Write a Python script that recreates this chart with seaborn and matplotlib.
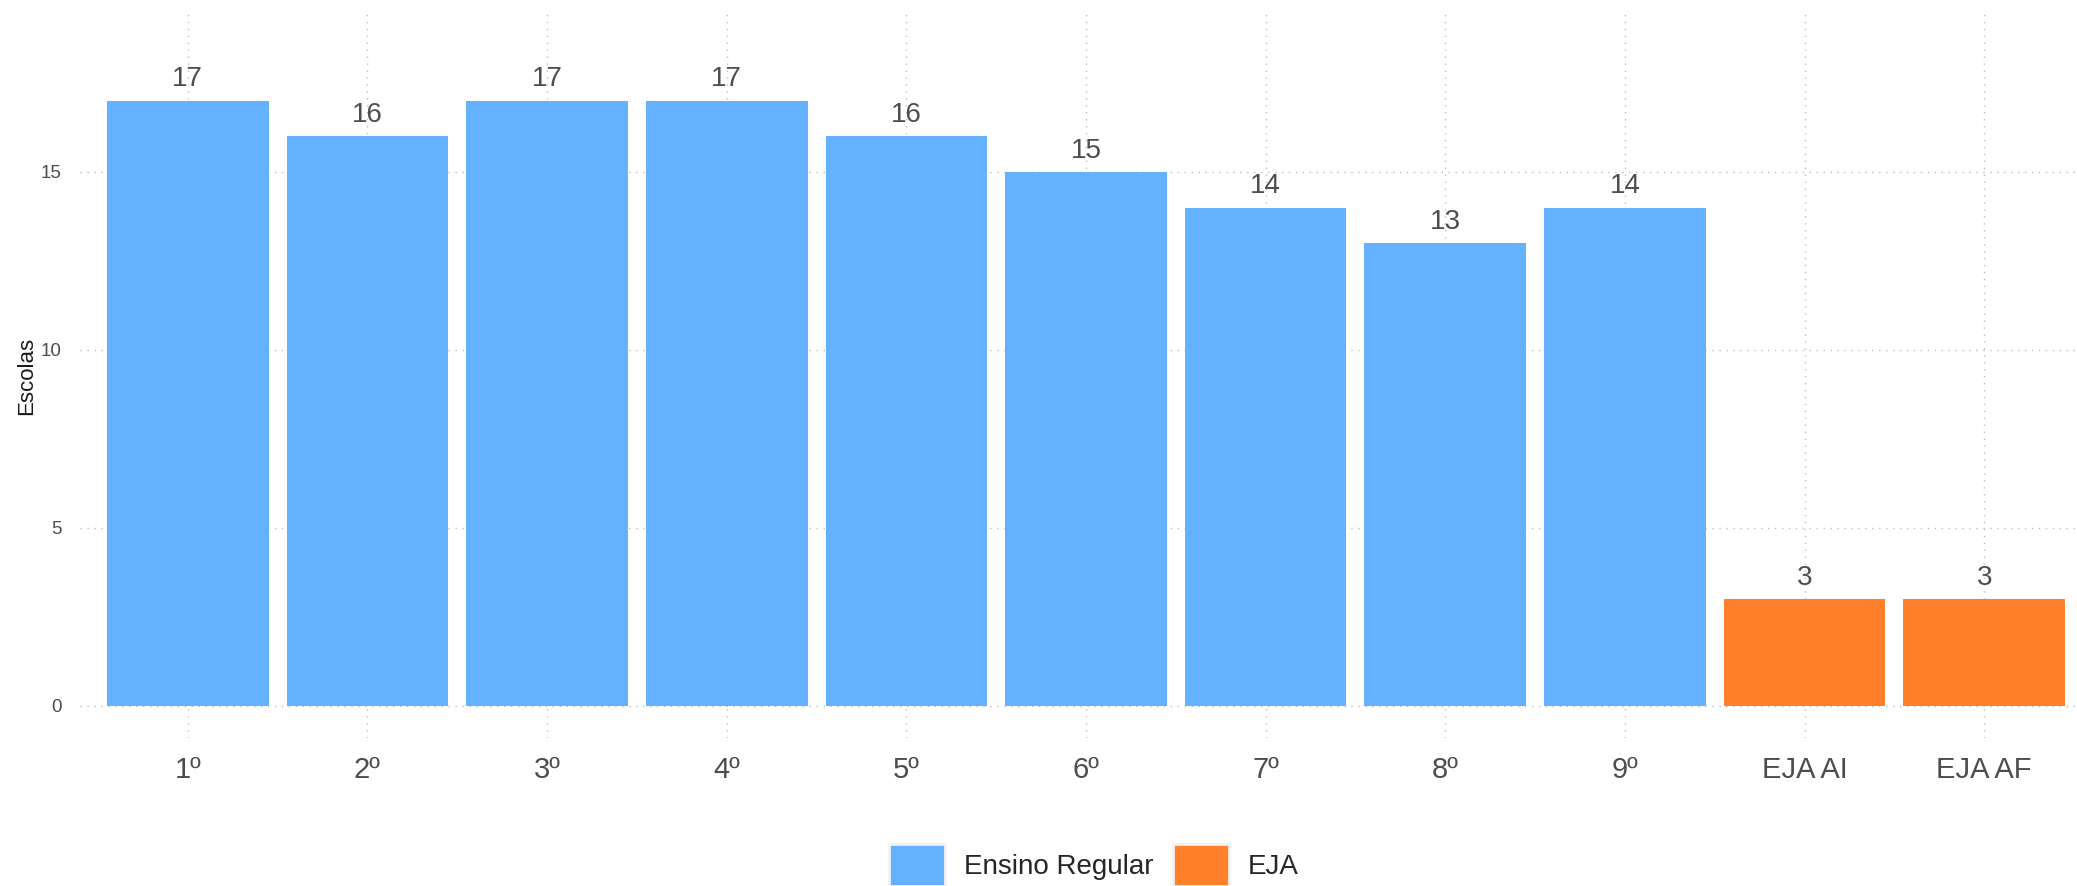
import pandas as pd
import matplotlib.pyplot as plt
import seaborn as sns
from matplotlib.patches import Patch

# dados
series = ["1º", "2º", "3º", "4º", "5º", "6º", "7º", "8º", "9º", "EJA AI", "EJA AF"]
escolas = [17, 16, 17, 17, 16, 15, 14, 13, 14, 3, 3]
modalidade = ["Ensino Regular"] * 9 + ["EJA"] * 2
cores = {"Ensino Regular": "#64B2FF", "EJA": "#FF7F2A"}

df = pd.DataFrame({"serie": series, "escolas": escolas, "modalidade": modalidade})

sns.set_theme(style="white")
plt.rcParams['font.family'] = ['Liberation Sans', 'DejaVu Sans']

fig = plt.figure(figsize=(20.77, 8.86), dpi=100)
ax = fig.add_axes([80 / 2077, 1 - 738 / 886, 2012 / 2077, 728 / 886])

sns.barplot(data=df, x="serie", y="escolas", hue="modalidade", palette=cores,
            dodge=False, width=0.9, saturation=1, linewidth=0, legend=False,
            ax=ax, zorder=2)

for c in ax.containers:
    ax.bar_label(c, fontsize=20, color="#4d4d4d", padding=6)

ax.set_xlim(-0.6, 10.6)
ax.set_ylim(-0.9, 19.55)
ax.set_yticks([0, 5, 10, 15])
ax.grid(True, axis="both", color="#bdbdbd", linestyle=(0, (1, 4)), linewidth=1, zorder=0)
ax.set_axisbelow(True)
for s in ax.spines.values():
    s.set_visible(False)
ax.tick_params(axis="y", length=0, pad=13, labelsize=13.5, labelcolor="#4d4d4d")
ax.tick_params(axis="x", length=0, pad=13, labelsize=21, labelcolor="#4d4d4d")
ax.set_xlabel("")
ax.set_ylabel("Escolas", fontsize=16, color="#1a1a1a")
ax.yaxis.set_label_coords(-43 / 2012, 0.497)

handles = [Patch(facecolor=cores[k], edgecolor="#f2f2f2", linewidth=2, label=k)
           for k in ["Ensino Regular", "EJA"]]
fig.legend(handles=handles, loc="center", bbox_to_anchor=(1094 / 2077, 1 - 865 / 886),
           ncol=2, frameon=False, fontsize=20, handlelength=2.0, handleheight=2.0,
           handletextpad=0.7, columnspacing=0.7)

fig.savefig("out.png", dpi=100)
